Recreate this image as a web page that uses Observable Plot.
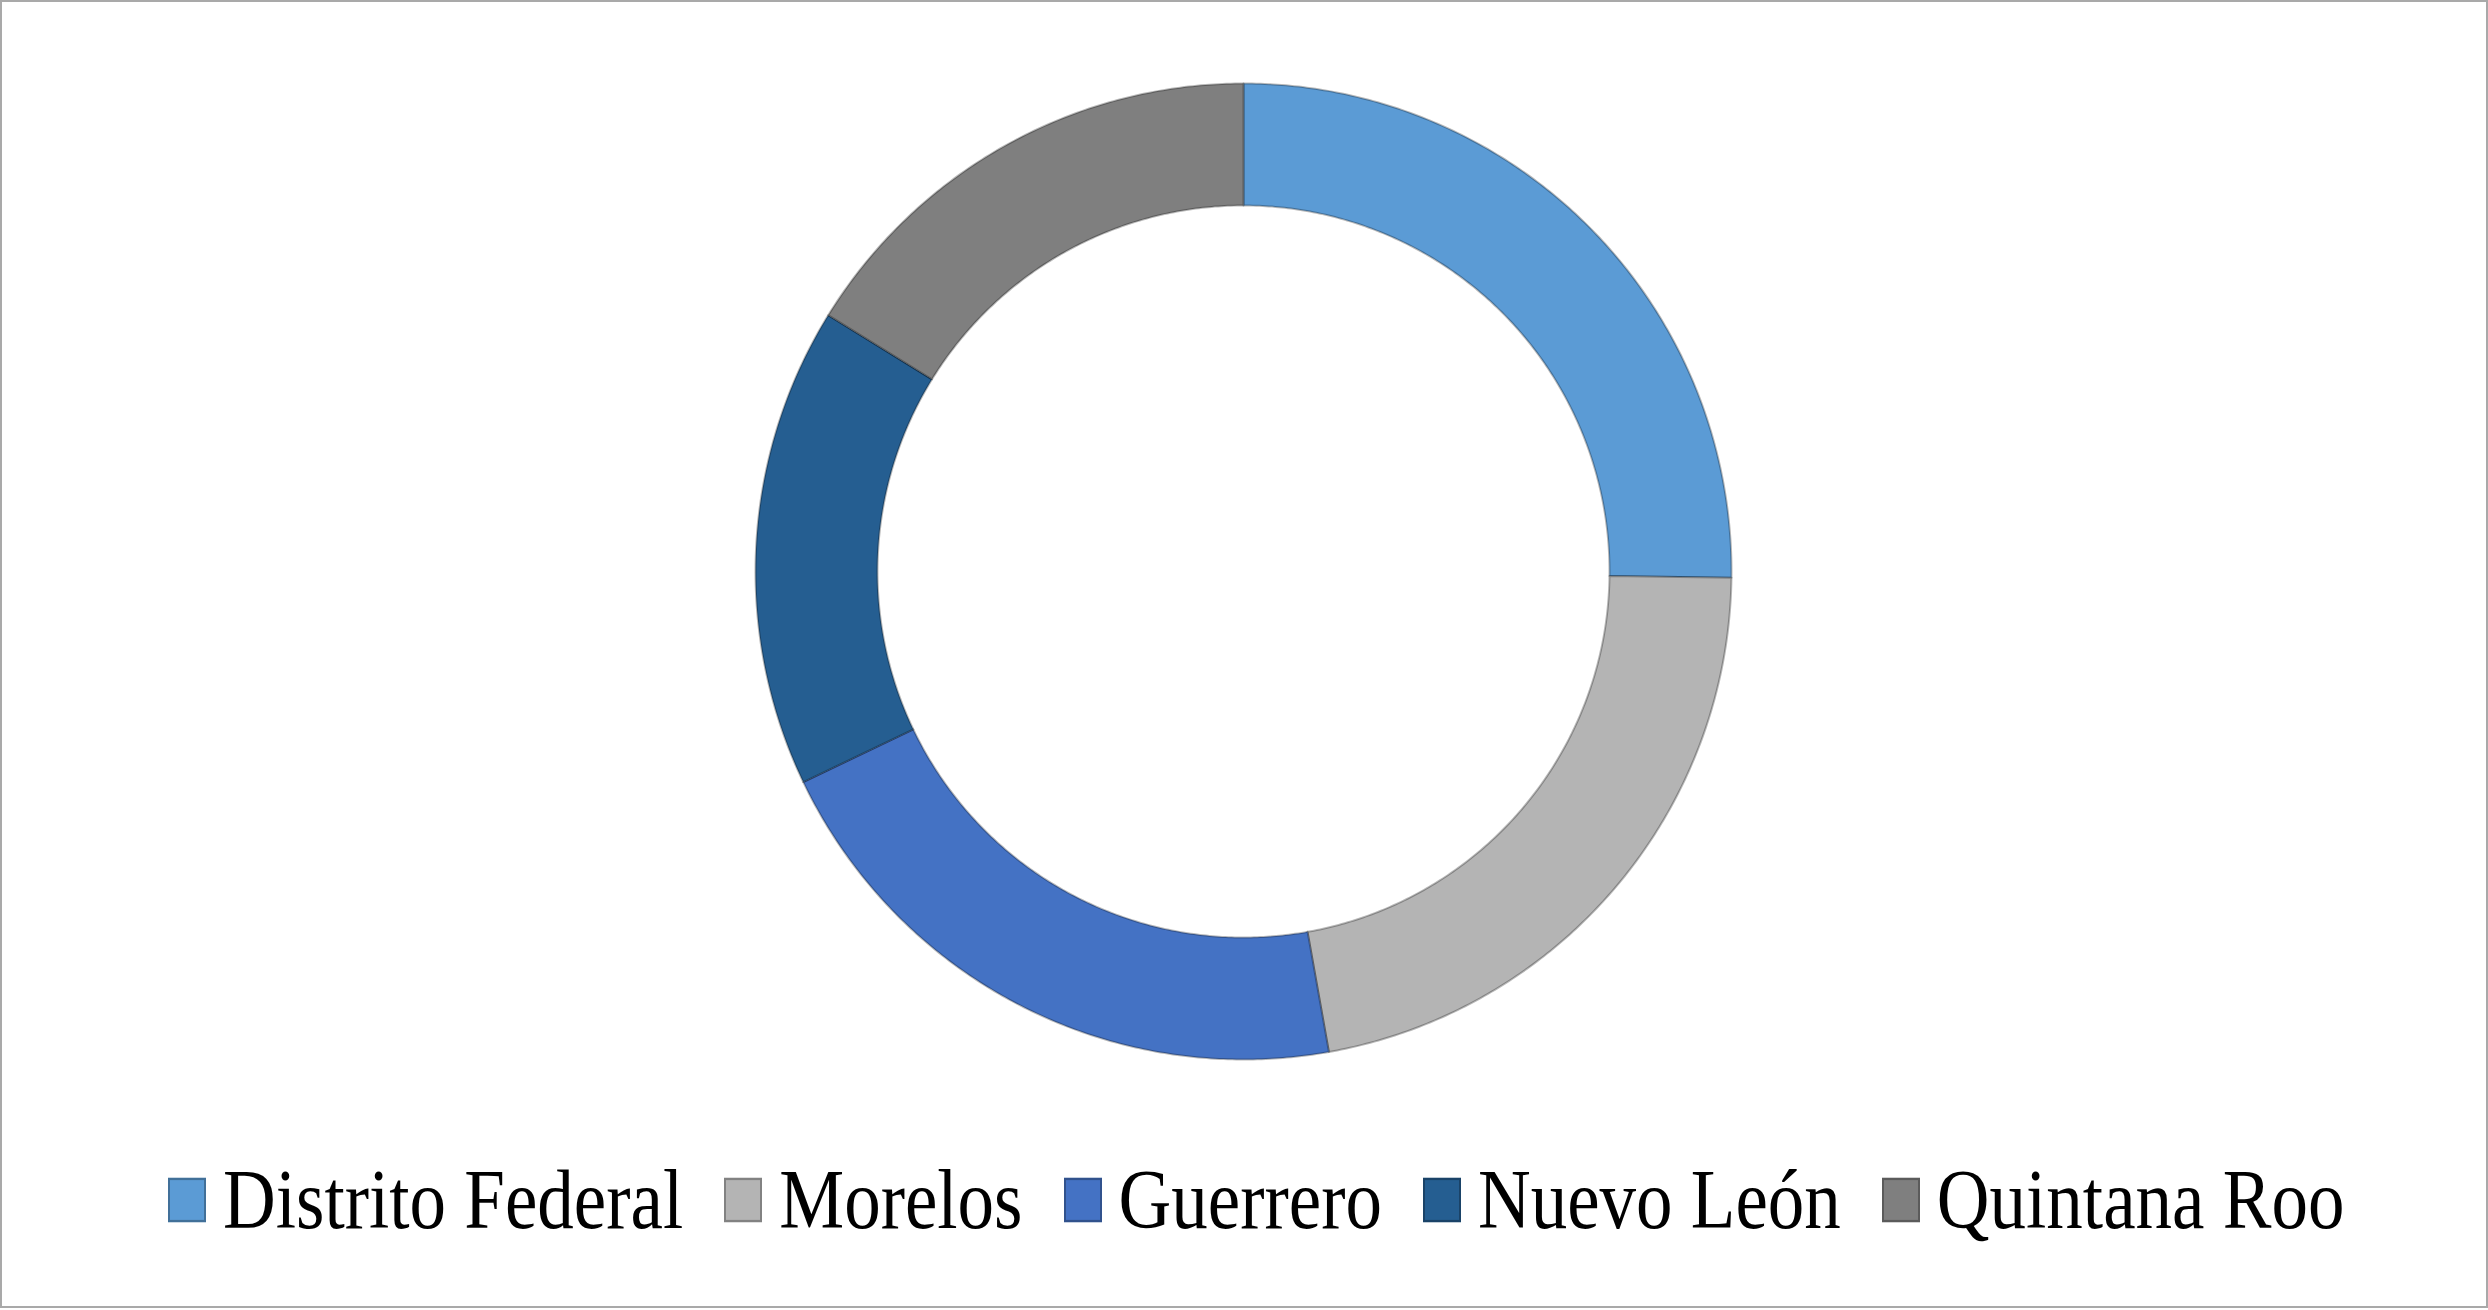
<!DOCTYPE html>
<html>
<head>
<meta charset="utf-8">
<script src="https://cdn.jsdelivr.net/npm/d3@7"></script>
<script src="https://cdn.jsdelivr.net/npm/@observablehq/plot@0.6"></script>
<style>
  html, body { margin: 0; padding: 0; background: #fff; }
  #wrap { position: relative; width: 2488px; height: 1310px; overflow: hidden; background: #fff; }
  #frame { position: absolute; left: 0; top: 0; width: 2488px; height: 1308px; box-sizing: border-box; border: 2px solid #a9a9a9; pointer-events: none; }
  #legend { position: absolute; left: 0; top: 1130px; width: 2488px; height: 140px; display: flex; align-items: center; padding-left: 168px; box-sizing: border-box;
            transform: scaleY(1.17); transform-origin: 50% 50%; font-family: "Liberation Serif", "Times New Roman", serif; font-size: 73px; color: #000; }
  .item { display: flex; align-items: center; margin-right: 41px; white-space: nowrap; }
  .sw { width: 38px; height: 38px; box-sizing: border-box; border: 2px solid rgba(0,0,0,0.28); margin-right: 17px; }
</style>
</head>
<body>
<div id="wrap">
  <div id="chart"></div>
  <div id="legend"></div>
  <div id="frame"></div>
</div>
<script>
const states = ["Distrito Federal", "Morelos", "Guerrero", "Nuevo León", "Quintana Roo"];
const values = [25.2, 22.0, 20.7, 15.9, 16.2];
const colors = ["#5B9BD5", "#B4B4B4", "#4472C4", "#255E91", "#7F7F7F"];

const innerRatio = 0.75;
const total = d3.sum(values);
const pts = [];
let cum = 0;
states.forEach((s, i) => {
  const a0 = cum / total * 2 * Math.PI;
  cum += values[i];
  const a1 = cum / total * 2 * Math.PI;
  const n = Math.max(4, Math.ceil((a1 - a0) / (2 * Math.PI) * 720));
  for (let k = 0; k <= n; k++) {
    const a = a0 + (a1 - a0) * k / n;
    pts.push({state: s, x: Math.sin(a), y: Math.cos(a)});
  }
  for (let k = n; k >= 0; k--) {
    const a = a0 + (a1 - a0) * k / n;
    pts.push({state: s, x: innerRatio * Math.sin(a), y: innerRatio * Math.cos(a)});
  }
});

const plot = Plot.plot({
  width: 2488,
  height: 1140,
  margin: 0,
  style: {background: "white"},
  x: {domain: [-1, 1], range: [755, 1731], axis: null},
  y: {domain: [-1, 1], range: [1059, 83], axis: null},
  color: {domain: states, range: colors},
  marks: [
    Plot.line(pts, {x: "x", y: "y", z: "state", fill: "state", stroke: "black", strokeOpacity: 0.28, strokeWidth: 2, curve: "linear-closed"})
  ]
});
document.getElementById("chart").appendChild(plot);

const colorScale = plot.scale("color");
const legend = document.getElementById("legend");
states.forEach((s, i) => {
  const it = document.createElement("div");
  it.className = "item";
  const sw = document.createElement("div");
  sw.className = "sw";
  sw.style.background = colorScale.range[colorScale.domain.indexOf(s)];
  const tx = document.createElement("span");
  tx.textContent = s;
  it.appendChild(sw);
  it.appendChild(tx);
  legend.appendChild(it);
});
</script>
</body>
</html>
